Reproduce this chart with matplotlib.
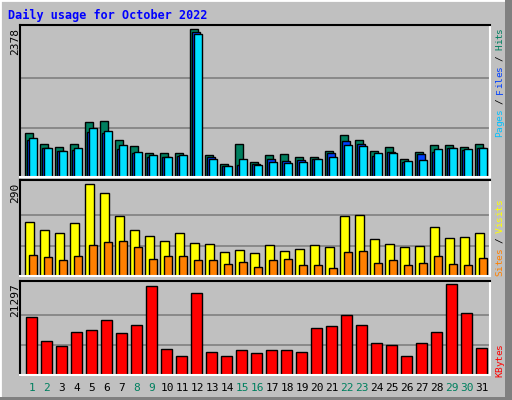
import matplotlib
matplotlib.use("Agg")
import matplotlib.pyplot as plt
from matplotlib.patches import Rectangle
import numpy as np

days = list(range(1, 32))
hits = [700, 538, 490, 538, 876, 892, 602, 506, 393, 393, 393, 2378, 361, 216, 538, 248,
        361, 377, 329, 329, 425, 667, 602, 425, 490, 296, 409, 522, 522, 490, 538]
files = [590, 473, 414, 441, 731, 715, 457, 393, 329, 318, 345, 2325, 318, 184, 188, 216,
         296, 264, 280, 296, 393, 586, 538, 345, 409, 248, 377, 409, 473, 441, 473]
pages = [634, 473, 425, 473, 795, 747, 522, 409, 361, 329, 361, 2292, 296, 184, 296, 188,
         248, 232, 248, 296, 329, 522, 506, 393, 393, 264, 280, 457, 473, 457, 473]
visits = [170, 145, 136, 167, 290, 262, 189, 145, 126, 110, 136, 104, 101, 76, 82, 72,
          98, 79, 85, 98, 91, 189, 192, 117, 101, 91, 95, 154, 120, 123, 136]
sites = [66, 60, 50, 63, 98, 107, 110, 91, 54, 63, 63, 50, 50, 38, 44, 28,
         50, 53, 35, 35, 25, 76, 79, 41, 50, 35, 41, 63, 38, 35, 57]
kbytes = [13570, 7960, 6790, 10060, 10530, 12870, 9830, 11700, 20830, 6080, 4450, 19190,
          5380, 4450, 5850, 5150, 5850, 5850, 5380, 11000, 11470, 14040, 11700, 7490,
          7020, 4450, 7490, 10060, 21297, 14510, 6320]
weekend = [1, 2, 8, 9, 15, 16, 22, 23, 29, 30]

W, H = 512, 400
fig = plt.figure(figsize=(5.12, 4.0), dpi=100, facecolor="#C0C0C0")
mono = "DejaVu Sans Mono"

fig.patches.append(Rectangle((0, 0), 1, 1, transform=fig.transFigure, fill=False,
                             edgecolor="white", lw=2))
fig.patches.append(Rectangle((505 / W, 0), 7 / W, 1, transform=fig.transFigure,
                             facecolor="#808080", edgecolor="none"))
fig.patches.append(Rectangle((0, 0), 1, 3 / H, transform=fig.transFigure,
                             facecolor="#808080", edgecolor="none"))

def mkax(top, bottom):
    ax = fig.add_axes([20 / W, 1 - bottom / H, 470 / W, (bottom - top) / H])
    ax.set_facecolor("#C0C0C0")
    ax.set_xlim(0.267, 31.6)
    ax.set_xticks([]); ax.set_yticks([])
    ax.spines["top"].set_color("black"); ax.spines["left"].set_color("black")
    ax.spines["right"].set_color("white"); ax.spines["bottom"].set_color("white")
    for s in ax.spines.values():
        s.set_linewidth(1.5)
    return ax

x = np.array(days)
u = 1 / 15
kw = dict(edgecolor="black", linewidth=1)

ax1 = mkax(25, 177)
m1 = max(hits)
ax1.set_ylim(0, m1 * 152 / 148)
for g in (m1 / 3, 2 * m1 / 3):
    ax1.axhline(g, color="#808080", lw=1.2, zorder=0)
ax1.bar(x - 2 * u, hits, width=8 * u, color="#007F5F", **kw)
ax1.bar(x, files, width=8 * u, color="#0040FF", **kw)
ax1.bar(x + 2 * u, pages, width=8 * u, color="#00E0FF", **kw)

ax2 = mkax(180, 276.3)
m2 = max(visits)
ax2.set_ylim(0, m2 * 96.3 / 92)
for g in (m2 / 3, 2 * m2 / 3):
    ax2.axhline(g, color="#808080", lw=1.2, zorder=0)
ax2.bar(x - 1.7 * u, visits, width=8.5 * u, color="#FFFF00", **kw)
ax2.bar(x + 2 * u, sites, width=8 * u, color="#FF8000", **kw)

ax3 = mkax(280.7, 375.3)
m3 = max(kbytes)
ax3.set_ylim(0, m3 * 94.6 / 91)
for g in (m3 / 3, 2 * m3 / 3):
    ax3.axhline(g, color="#808080", lw=1.2, zorder=0)
ax3.bar(x + 0.3 * u, kbytes, width=10.7 * u, color="#FF0000", **kw)

def ft(px, py, s, **k):
    fig.text(px / W, 1 - py / H, s, family=mono, **k)

ft(8, 15, "Daily usage for October 2022", color="#0000FF", fontsize=8.5,
   fontweight="bold", va="center")
ft(15, 28, f"{m1}", rotation=90, fontsize=8, va="top", ha="center")
ft(15, 183, f"{m2}", rotation=90, fontsize=8, va="top", ha="center")
ft(15, 283, f"{m3}", rotation=90, fontsize=8, va="top", ha="center")

STEP = 5.45
def vleg(ybottom, parts):
    y = ybottom
    for s, c in parts:
        for ch in s:
            if ch != " ":
                ft(500, y - STEP / 2, ch, rotation=90, fontsize=6.8, color=c,
                   va="center", ha="center")
            y -= STEP
vleg(137, [("Pages", "#00C0FF"), (" / ", "black"), ("Files", "#0040FF"),
           (" / ", "black"), ("Hits", "#007F5F")])
vleg(276, [("Sites", "#FF8000"), (" / ", "black"), ("Visits", "#FFFF00")])
vleg(377, [("KBytes", "#FF0000")])

for d in days:
    px = 31 + 15 * (d - 1)
    ft(px + 1, 388, str(d), fontsize=8, ha="center", va="center",
       color="#00805F" if d in weekend else "black")

fig.savefig("out.png", dpi=100, facecolor=fig.get_facecolor())
